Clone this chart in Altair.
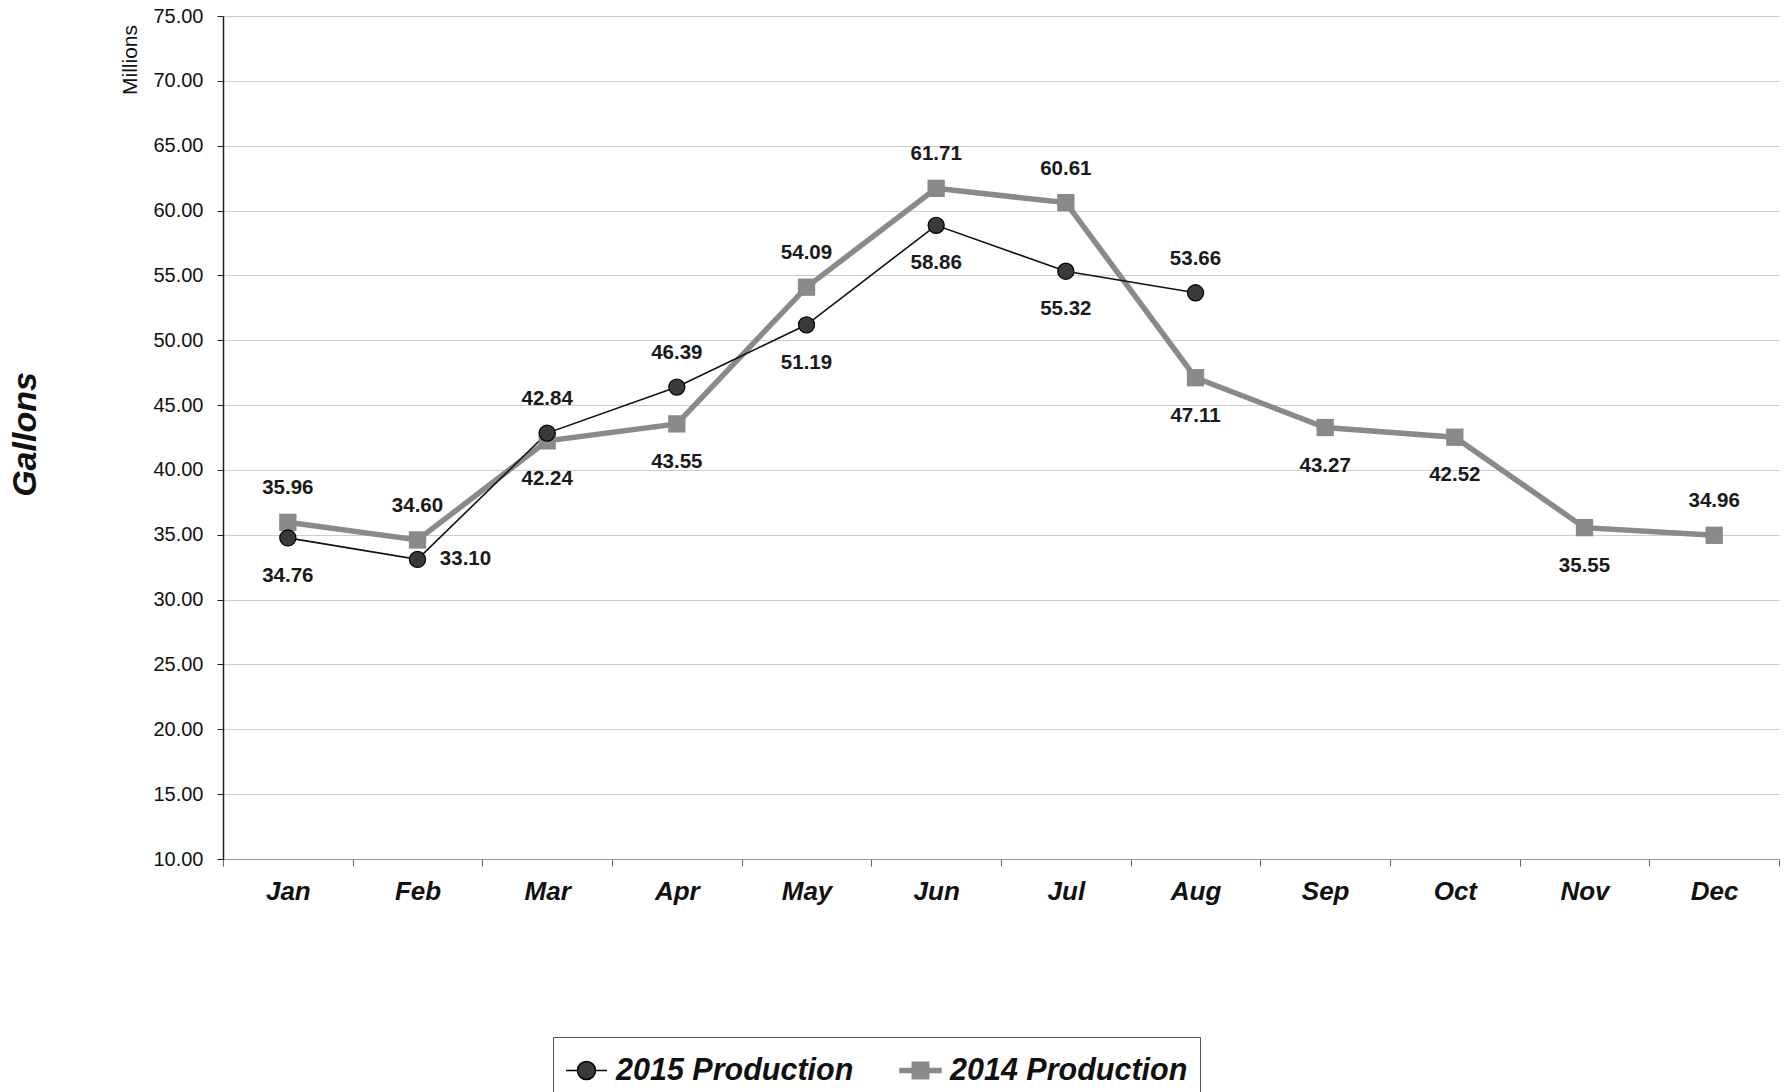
import altair as alt
import pandas as pd

months = ["Jan", "Feb", "Mar", "Apr", "May", "Jun", "Jul", "Aug", "Sep", "Oct", "Nov", "Dec"]
prod_2015 = [34.76, 33.10, 42.84, 46.39, 51.19, 58.86, 55.32, 53.66]
prod_2014 = [35.96, 34.60, 42.24, 43.55, 54.09, 61.71, 60.61, 47.11, 43.27, 42.52, 35.55, 34.96]
label_pos_2015 = ["below", "right", "above", "above", "below", "below", "below", "above"]
label_pos_2014 = ["above", "above", "below", "below", "above", "above", "above", "below",
                  "below", "below", "below", "above"]
series_names = ["2015 Production", "2014 Production"]
y_ticks = [10, 15, 20, 25, 30, 35, 40, 45, 50, 55, 60, 65, 70, 75]
units_label = ["Millions"]

rows = []
for m, v, p in zip(months, prod_2015, label_pos_2015):
    rows.append({"month": m, "value": v, "series": series_names[0], "pos": p})
for m, v, p in zip(months, prod_2014, label_pos_2014):
    rows.append({"month": m, "value": v, "series": series_names[1], "pos": p})
df = pd.DataFrame(rows)

FONT = "Liberation Sans"
GRAY = "#8a8a8a"
DARK = "#3a3a3a"

x_enc = alt.X(
    "month:N", sort=months, bandPosition=0.5,
    scale=alt.Scale(type="band", domain=months, paddingInner=0, paddingOuter=0),
    axis=alt.Axis(title=None, tickBand="extent", labelAngle=0, labelFont=FONT,
                  labelFontSize=26, labelFontWeight="bold", labelFontStyle="italic",
                  labelColor="#111", labelPadding=12, tickSize=7, tickColor="#666",
                  domainColor="#9a9a9a", grid=False),
)
y_enc = alt.Y(
    "value:Q", scale=alt.Scale(domain=[10, 75], nice=False, zero=False),
    axis=alt.Axis(values=y_ticks, format=".2f", title="Gallons", titleFont=FONT,
                  titleFontSize=34, titleFontWeight="bold", titleFontStyle="italic",
                  titleColor="#111", titleAngle=270, titleX=-198, titleY=418,
                  titleAlign="center", titleBaseline="middle",
                  labelFont=FONT, labelFontSize=20, labelColor="#111", labelPadding=14,
                  tickSize=6, tickColor="#222", domainColor="#222", domainWidth=1.5,
                  grid=True, gridColor="#cdcdcd", gridWidth=1),
)

base = alt.Chart(df).encode(x=x_enc, y=y_enc)
is14 = alt.datum.series == series_names[1]
is15 = alt.datum.series == series_names[0]

line14 = base.transform_filter(is14).mark_line(color=GRAY, strokeWidth=5.5)
line15 = base.transform_filter(is15).mark_line(color="#111", strokeWidth=1.6)
sq14 = base.transform_filter(is14).mark_square(size=300, color=GRAY, opacity=1)
ci15 = base.transform_filter(is15).mark_circle(size=260, fill=DARK, stroke="#000",
                                               strokeWidth=1.2, opacity=1)

txt_kw = dict(font=FONT, fontSize=20.5, fontWeight="bold", color="#1a1a1a")
txt_enc = dict(text=alt.Text("value:Q", format=".2f"))
t_above = base.transform_filter(alt.datum.pos == "above").mark_text(dy=-34, **txt_kw).encode(**txt_enc)
t_below = base.transform_filter(alt.datum.pos == "below").mark_text(dy=38, **txt_kw).encode(**txt_enc)
t_right = base.transform_filter(alt.datum.pos == "right").mark_text(dx=48, **txt_kw).encode(**txt_enc)

millions = alt.Chart(pd.DataFrame({"label": units_label})).mark_text(
    angle=270, font=FONT, fontSize=21, color="#111", align="center", baseline="middle"
).encode(text="label:N", x=alt.value(-92), y=alt.value(44))

path15 = ("M-1,0L-0.44,0M0.44,0L1,0"
          "M0.44,0A0.44,0.44,0,1,1,-0.44,0A0.44,0.44,0,1,1,0.44,0Z")
path14 = ("M-1,-0.1L1,-0.1L1,0.1L-1,0.1Z"
          "M-0.4,-0.4L0.4,-0.4L0.4,0.4L-0.4,0.4Z")

leg_def = alt.Legend(orient="none", legendX=330, legendY=1021, direction="horizontal",
                     title=None, labelFont=FONT, labelFontSize=30.5, labelFontWeight="bold",
                     labelFontStyle="italic", labelColor="#111", labelLimit=500,
                     symbolSize=1681, symbolStrokeWidth=1.5, strokeColor="#555",
                     fillColor="white", padding=12, columnPadding=43, labelOffset=8)

leg = alt.Chart(df).transform_filter("false").mark_point(filled=True, opacity=1).encode(
    shape=alt.Shape("series:N", scale=alt.Scale(domain=series_names, range=[path15, path14]),
                    legend=leg_def),
    fill=alt.Fill("series:N", scale=alt.Scale(domain=series_names, range=[DARK, GRAY]),
                  legend=leg_def),
    stroke=alt.Stroke("series:N", scale=alt.Scale(domain=series_names, range=["#000", GRAY]),
                      legend=leg_def),
)

chart = alt.layer(line14, line15, sq14, ci15, t_above, t_below, t_right, millions, leg).properties(
    width=1556, height=843,
    padding={"left": 223, "top": 16, "right": 5, "bottom": 233},
    autosize=alt.AutoSizeParams(type="none"),
    background="white",
).configure_view(stroke=None)

chart.save("out.html", embed_options={"renderer": "svg", "actions": False})
